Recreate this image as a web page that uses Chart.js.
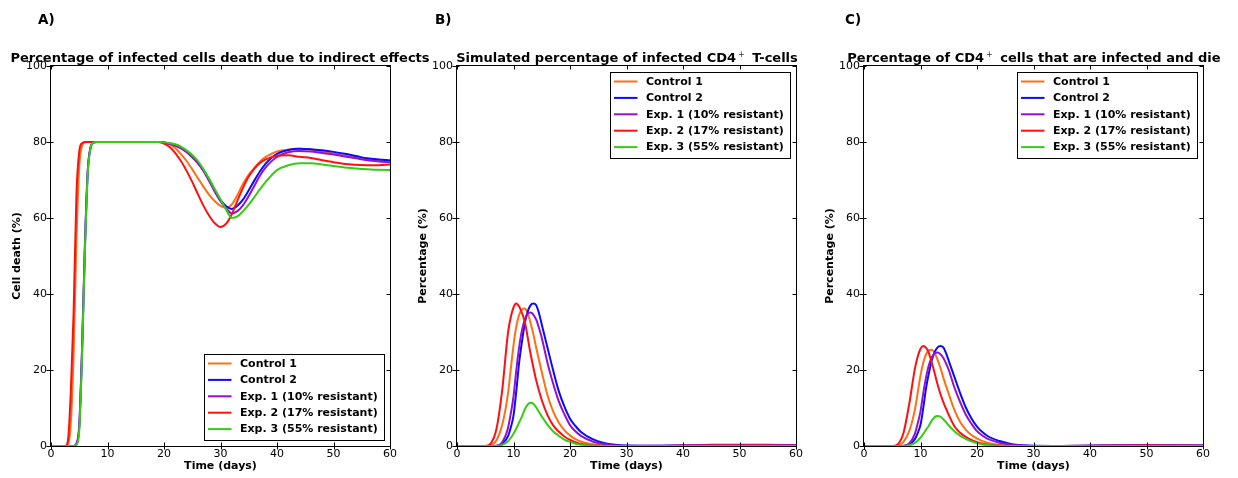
<!DOCTYPE html>
<html lang="en">
<head>
<meta charset="UTF-8">
<title>Infected cell death and infected CD4+ T-cells</title>
<script src="https://cdn.jsdelivr.net/npm/chart.js@4.4.0/dist/chart.umd.min.js"></script>
<style>
body{margin:0;background:#fff;font-family:"DejaVu Sans",sans-serif}
#wrap{position:relative;width:1238px;height:478px;overflow:hidden}
canvas{position:absolute;top:0}
.letter{position:absolute;top:11px;font:bold 13.5px/16px "DejaVu Sans";color:#000}
.title{position:absolute;top:50px;width:600px;text-align:center;white-space:nowrap;font:bold 13px/15px "DejaVu Sans";color:#000}
.title sup{font-size:8px;font-weight:normal;line-height:0;vertical-align:0;position:relative;top:-5px;margin:0 3px 0 2px;color:#333}
</style>
</head>
<body>
<div id="wrap">
  <canvas id="chartA" width="413" height="478" style="left:0"></canvas>
  <canvas id="chartB" width="407" height="478" style="left:413px"></canvas>
  <canvas id="chartC" width="418" height="478" style="left:820px"></canvas>

  <div class="letter" style="left:38px">A)</div>
  <div class="letter" style="left:435px">B)</div>
  <div class="letter" style="left:845px">C)</div>

  <div class="title" style="left:-80px">Percentage of infected cells death due to indirect effects</div>
  <div class="title" style="left:327px">Simulated percentage of infected CD4<sup>+</sup> T-cells</div>
  <div class="title" style="left:734px">Percentage of CD4<sup>+</sup> cells that are infected and die</div>
</div>

<script>
// series names and colours (same for the three panels)
const seriesNames = ['Control 1', 'Control 2', 'Exp. 1 (10% resistant)', 'Exp. 2 (17% resistant)', 'Exp. 3 (55% resistant)'];
const seriesColors = ['#ff7014', '#0a0aff', '#9410d4', '#ff1010', '#36cc14'];

// A) cell death due to indirect effects (%)
const timeA = [0, 2, 2.5, 3, 3.5, 4, 4.5, 5, 5.5, 6, 6.5, 7, 7.5, 8, 10, 15, 19, 20,
  21, 22, 23, 24, 25, 26, 27, 28, 29, 30, 31, 32, 33, 34, 35, 36, 37, 38, 39, 40,
  42, 44, 46, 48, 50, 52, 54, 56, 58, 60];
const control1A = [0, 0, 0, 0.4, 6, 24, 54, 73.5, 79, 79.9, 80, 80, 80, 80, 80, 80, 80, 79.9,
  79.4, 78.4, 76.8, 75.0, 72.8, 70.5, 68.2, 66.1, 64.4, 63.2, 62.7, 63.6, 66.0, 69.0, 71.4, 73.2, 74.9, 76.1, 76.9, 77.5,
  78.0, 78.2, 78.0, 77.5, 77.0, 76.4, 75.9, 75.4, 75.1, 74.9];
const control2A = [0, 0, 0, 0, 0, 0, 0.5, 5, 25, 52, 72, 78.5, 79.8, 80, 80, 80, 80, 79.9,
  79.6, 79.2, 78.5, 77.5, 76.2, 74.6, 72.6, 70.0, 67.2, 64.8, 63.1, 62.4, 63.2, 64.9, 67.3, 69.9, 72.3, 74.3, 75.8, 76.9,
  77.9, 78.2, 78.1, 77.8, 77.4, 76.9, 76.3, 75.7, 75.4, 75.2];
const exp1A = [0, 0, 0, 0, 0, 0, 0.6, 5.5, 26, 53, 72.5, 78.6, 79.8, 80, 80, 80, 80, 79.9,
  79.5, 79.0, 78.3, 77.3, 76.0, 74.4, 72.3, 69.7, 66.9, 64.4, 62.5, 61.2, 61.8, 63.4, 65.8, 68.5, 71.2, 73.3, 74.9, 76.1,
  77.3, 77.6, 77.5, 77.1, 76.7, 76.2, 75.7, 75.2, 74.9, 74.7];
const exp2A = [0, 0, 0, 1.5, 14, 35, 66, 77.5, 79.7, 80, 80, 80, 80, 80, 80, 80, 80, 79.6,
  78.7, 77.1, 75.0, 72.4, 69.5, 66.3, 63.2, 60.6, 58.6, 57.6, 58.5, 61.0, 64.6, 68.0, 70.9, 73.0, 74.5, 75.4, 76.0, 76.4,
  76.5, 76.1, 75.8, 75.2, 74.7, 74.2, 74.0, 73.9, 73.9, 74.1];
const exp3A = [0, 0, 0, 0, 0, 0, 0.3, 4, 24, 51, 71.5, 78.4, 79.8, 80, 80, 80, 80, 79.9,
  79.7, 79.4, 78.8, 77.8, 76.6, 75.0, 72.8, 70.3, 67.6, 64.9, 62.2, 60.0, 60.4, 61.8, 63.5, 65.5, 67.6, 69.5, 71.2, 72.6,
  73.9, 74.4, 74.4, 74.1, 73.7, 73.3, 73.0, 72.8, 72.7, 72.6];

// B) and C) share the same time points
const timeBC = [0, 5, 6, 7, 8, 9, 9.5, 10, 10.5, 11, 11.5, 12, 12.5, 13, 13.5, 14, 14.5,
  15, 16, 17, 18, 19, 20, 21, 22, 24, 26, 28, 30, 35, 40, 45, 50, 55, 60];

// B) simulated percentage of infected CD4+ T-cells
const control1B = [0, 0, 0.2, 1.5, 5.5, 13.5, 20, 26.5, 31.5, 34.5, 35.9, 36.2, 35, 32.5, 29.5, 26, 22.7,
  19.5, 13.5, 9.2, 6.2, 4.2, 2.8, 1.8, 1.1, 0.45, 0.15, 0.05, 0, 0, 0.1, 0.2, 0.25, 0.2, 0.15];
const control2B = [0, 0, 0, 0, 0.6, 2.5, 4.8, 8, 14.5, 22, 27.5, 32.3, 35.3, 37, 37.5, 37.1, 35,
  32, 26, 20, 14.5, 10.4, 7.2, 5.2, 3.6, 1.8, 0.8, 0.3, 0.1, 0.05, 0.1, 0.2, 0.25, 0.2, 0.15];
const exp1B = [0, 0, 0, 0.1, 1.0, 4.6, 8.4, 13, 20, 26, 30.5, 33.3, 34.8, 35.1, 34.6, 33.3, 31.1,
  28.5, 22, 16.5, 11.8, 8.4, 5.5, 3.8, 2.6, 1.2, 0.5, 0.15, 0.05, 0.05, 0.15, 0.3, 0.35, 0.3, 0.2];
const exp2B = [0, 0, 0.7, 4.6, 14.7, 29.5, 33.8, 36.5, 37.5, 36.7, 35, 32.7, 28.7, 24.4, 20.8, 17.4, 14.6,
  12.1, 8.2, 5.5, 3.8, 2.5, 1.6, 1.0, 0.5, 0.2, 0.05, 0, 0, 0, 0.05, 0.1, 0.15, 0.1, 0.05];
const exp3B = [0, 0, 0, 0, 0.3, 1.2, 2.1, 3.2, 4.6, 6.2, 7.8, 9.6, 10.9, 11.4, 11.1, 10.2, 9.0,
  7.8, 5.6, 3.9, 2.7, 1.7, 1.1, 0.6, 0.35, 0.1, 0.03, 0, 0, 0, 0, 0, 0, 0, 0];

// C) percentage of CD4+ cells that are infected and die
const control1C = [0, 0, 0.15, 1.1, 3.9, 9.5, 14, 18.6, 22, 24.2, 25.2, 25.3, 24.5, 22.8, 20.7, 18.2, 15.9,
  13.7, 9.5, 6.4, 4.3, 2.9, 2.0, 1.3, 0.8, 0.3, 0.1, 0.03, 0, 0, 0.07, 0.14, 0.17, 0.14, 0.1];
const control2C = [0, 0, 0, 0, 0.4, 1.8, 3.4, 5.6, 10.1, 15.4, 19.3, 22.6, 24.7, 25.9, 26.3, 26, 24.5,
  22.4, 18.2, 14, 10.2, 7.3, 5.1, 3.6, 2.5, 1.3, 0.55, 0.2, 0.07, 0.03, 0.07, 0.14, 0.17, 0.14, 0.1];
const exp1C = [0, 0, 0, 0.07, 0.7, 3.2, 5.9, 9.1, 14, 18.2, 21.4, 23.3, 24.4, 24.6, 24.2, 23.3, 21.8,
  20, 15.4, 11.6, 8.3, 5.9, 3.9, 2.7, 1.8, 0.85, 0.35, 0.1, 0.03, 0.03, 0.1, 0.2, 0.25, 0.2, 0.14];
const exp2C = [0, 0, 0.5, 3.5, 11, 20.3, 23.5, 25.6, 26.3, 25.8, 24.4, 21.9, 19.2, 16.3, 13.8, 11.7, 9.9,
  8.2, 5.2, 3.5, 2.4, 1.6, 1.0, 0.6, 0.35, 0.1, 0.03, 0, 0, 0, 0.03, 0.07, 0.1, 0.07, 0.03];
const exp3C = [0, 0, 0, 0, 0.2, 0.8, 1.4, 2.2, 3.2, 4.3, 5.4, 6.7, 7.6, 7.9, 7.7, 7.1, 6.3,
  5.4, 3.9, 2.7, 1.9, 1.2, 0.75, 0.4, 0.25, 0.07, 0.02, 0, 0, 0, 0, 0, 0, 0, 0];

Chart.defaults.font.family = '"DejaVu Sans", sans-serif';
Chart.defaults.font.size = 11;
Chart.defaults.color = '#000';

/* box around the plot with matplotlib-like tick marks */
const framePlugin = {
  id: 'frame',
  afterDatasetsDraw(chart) {
    const {ctx, chartArea: a, scales: {x, y}} = chart;
    const L = a.left - 0.5, R = a.right + 0.5, T = a.top - 0.5, B = a.bottom + 0.5;
    ctx.save();
    ctx.strokeStyle = '#000';
    ctx.lineWidth = 1;
    ctx.strokeRect(L, T, R - L, B - T);
    ctx.beginPath();
    x.ticks.forEach(t => {
      const px = Math.round(x.getPixelForValue(t.value)) + 0.5;
      ctx.moveTo(px, B + 3); ctx.lineTo(px, B - 4);
      ctx.moveTo(px, T); ctx.lineTo(px, T + 4);
    });
    y.ticks.forEach(t => {
      const py = Math.round(y.getPixelForValue(t.value)) + 0.5;
      ctx.moveTo(L - 4, py); ctx.lineTo(L + 3, py);
      ctx.moveTo(R, py); ctx.lineTo(R - 4, py);
    });
    ctx.stroke();
    ctx.restore();
  }
};

/* legend box inside the plot */
const boxLegend = {
  id: 'boxLegend',
  afterDatasetsDraw(chart, args, opts) {
    const {ctx, chartArea: a} = chart;
    const w = 180, h = 86;
    const x0 = Math.round(a.right - 6 - w);
    const y0 = Math.round(opts.corner === 'bottom' ? a.bottom - 6 - h : a.top + 6);
    ctx.save();
    ctx.fillStyle = '#fff';
    ctx.fillRect(x0, y0, w, h);
    ctx.strokeStyle = '#000';
    ctx.lineWidth = 1;
    ctx.strokeRect(x0 + 0.5, y0 + 0.5, w, h);
    ctx.font = 'bold 11px "DejaVu Sans"';
    ctx.textBaseline = 'middle';
    chart.data.datasets.forEach((ds, i) => {
      const yy = y0 + 9.5 + i * 16.4;
      ctx.strokeStyle = ds.borderColor;
      ctx.lineWidth = 2;
      ctx.beginPath();
      ctx.moveTo(x0 + 4, yy);
      ctx.lineTo(x0 + 27.5, yy);
      ctx.stroke();
      ctx.fillStyle = '#000';
      ctx.fillText(ds.label, x0 + 36, yy + 0.5);
    });
    ctx.restore();
  }
};

function makeChart(id, time, series, yTitle, corner, padLeft, padRight) {
  const datasets = series.map((vals, i) => ({
    label: seriesNames[i],
    data: time.map((t, j) => ({x: t, y: vals[j]})),
    borderColor: seriesColors[i],
    borderWidth: 2,
    pointRadius: 0,
    cubicInterpolationMode: 'monotone',
    clip: 0,
    order: series.length - i
  }));
  return new Chart(document.getElementById(id), {
    type: 'line',
    data: {datasets},
    plugins: [framePlugin, boxLegend],
    options: {
      responsive: false,
      animation: false,
      events: [],
      layout: {padding: {left: padLeft, right: padRight, top: 66, bottom: 0}},
      plugins: {
        legend: {display: false},
        tooltip: {enabled: false},
        boxLegend: {corner}
      },
      scales: {
        x: {
          type: 'linear', min: 0, max: 60,
          ticks: {stepSize: 10, padding: 2, maxRotation: 0},
          grid: {display: false, drawTicks: false},
          border: {display: false},
          title: {display: true, text: 'Time (days)', font: {weight: 'bold', size: 11}, padding: {top: 0, bottom: 5}},
          afterFit(s) { s.height = 32; }
        },
        y: {
          min: 0, max: 100,
          ticks: {stepSize: 20, padding: 4},
          grid: {display: false, drawTicks: false},
          border: {display: false},
          title: {display: true, text: yTitle, font: {weight: 'bold', size: 11}, padding: {top: 0, bottom: 0}},
          afterFit(s) { s.width = 40; }
        }
      }
    }
  });
}

makeChart('chartA', timeA, [control1A, control2A, exp1A, exp2A, exp3A], 'Cell death (%)', 'bottom', 11, 23);
makeChart('chartB', timeBC, [control1B, control2B, exp1B, exp2B, exp3B], 'Percentage (%)', 'top', 4, 24);
makeChart('chartC', timeBC, [control1C, control2C, exp1C, exp2C, exp3C], 'Percentage (%)', 'top', 4, 35);
</script>
</body>
</html>
